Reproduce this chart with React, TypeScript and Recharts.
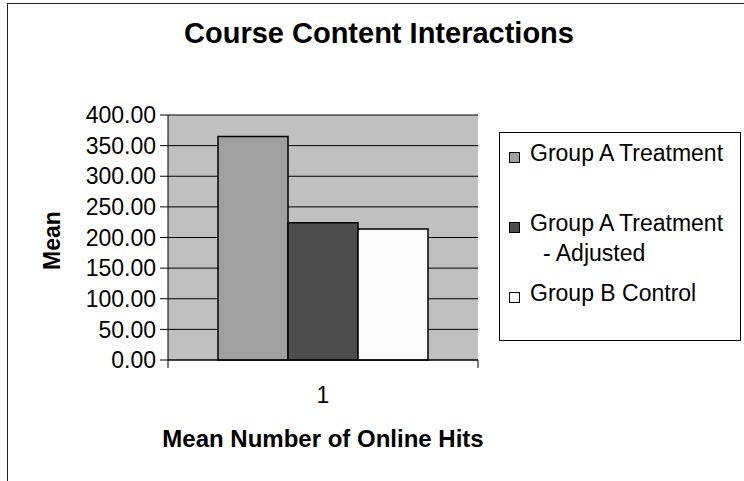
import React from "react";
import {
  BarChart,
  Bar,
  XAxis,
  YAxis,
  CartesianGrid,
  Legend,
} from "recharts";

const categories = ["1"];
const groupATreatment = [365];
const groupAAdjusted = [224];
const groupBControl = [214];
const yTicks = [0, 50, 100, 150, 200, 250, 300, 350, 400];

const seriesNames = [
  "Group A Treatment",
  "Group A Treatment - Adjusted",
  "Group B Control",
];
const seriesColors = ["#A0A0A0", "#4D4D4D", "#FAFAFA"];

const data = categories.map((name, i) => ({
  name,
  a: groupATreatment[i],
  b: groupAAdjusted[i],
  c: groupBControl[i],
}));

const FONT = '"Liberation Sans", Arial, sans-serif';

// Excel puts the category-axis tick marks on the band edges, not the centre
function CategoryTick(props: any) {
  const { x, y, payload } = props;
  const half = payload && payload.offset ? payload.offset : 0;
  return (
    <g>
      {half > 0 && (
        <>
          <line x1={x - half} x2={x - half} y1={y} y2={y + 8} stroke="#000" />
          <line x1={x + half} x2={x + half} y1={y} y2={y + 8} stroke="#000" />
        </>
      )}
      <text
        x={x}
        y={y + 27}
        dy="0.71em"
        textAnchor="middle"
        fill="#000"
        fontSize={23}
        fontFamily={FONT}
      >
        {payload.value}
      </text>
    </g>
  );
}

function LegendBox(props: any) {
  const payload = props.payload || [];
  return (
    <div
      style={{
        width: 242,
        height: 209,
        boxSizing: "border-box",
        border: "1px solid #000",
        background: "#fff",
        paddingTop: 5,
        fontFamily: FONT,
        fontSize: 23,
        color: "#000",
      }}
    >
      {payload.map((entry: any) => (
        <div
          key={entry.value}
          style={{
            height: 70,
            display: "flex",
            alignItems: "flex-start",
            paddingLeft: 9,
            lineHeight: "30px",
          }}
        >
          <span
            style={{
              display: "inline-block",
              width: 11,
              height: 11,
              boxSizing: "border-box",
              border: "1px solid #000",
              background: entry.color,
              marginTop: 14,
              marginRight: 10,
              flex: "none",
            }}
          />
          <span
            style={{
              display: "block",
              width: 190,
              paddingLeft: 13,
              textIndent: -13,
              whiteSpace: "normal",
            }}
          >
            {entry.value}
          </span>
        </div>
      ))}
    </div>
  );
}

export default function App() {
  return (
    <div
      style={{
        position: "absolute",
        left: 0,
        top: 0,
        width: 744,
        height: 481,
        overflow: "hidden",
        background: "#fff",
        fontFamily: FONT,
      }}
    >
      <div
        style={{
          position: "absolute",
          left: 7,
          top: 3,
          width: 900,
          height: 700,
          borderTop: "1.5px solid #222",
          borderLeft: "1.5px solid #222",
        }}
      />
      <div
        style={{
          position: "absolute",
          left: 0,
          top: 19,
          width: 758,
          textAlign: "center",
          fontSize: 29,
          fontWeight: "bold",
          lineHeight: 1,
          color: "#000",
        }}
      >
        Course Content Interactions
      </div>
      <BarChart
        width={744}
        height={481}
        data={data}
        margin={{ top: 115, right: 266, bottom: 0, left: 0 }}
        barCategoryGap={50}
        barGap={0}
        style={{ position: "absolute", left: 0, top: 0 }}
      >
        <CartesianGrid vertical={false} stroke="#000" fill="#C0C0C0" />
        <XAxis
          dataKey="name"
          height={121}
          tickLine={false}
          tickSize={0}
          tickMargin={0}
          axisLine={{ stroke: "#000" }}
          tick={<CategoryTick />}
          label={{
            content: (p: any) => {
              const vb = p.viewBox || {};
              return (
                <text
                  x={vb.x + vb.width / 2}
                  y={vb.y + 78}
                  textAnchor="middle"
                  dominantBaseline="central"
                  fontFamily={FONT}
                  fontSize={24}
                  fontWeight="bold"
                  fill="#000"
                >
                  Mean Number of Online Hits
                </text>
              );
            },
          }}
        />
        <YAxis
          width={168}
          domain={[0, 400]}
          ticks={yTicks}
          interval={0}
          tickFormatter={(v: number) => v.toFixed(2)}
          tickSize={8}
          tickMargin={4}
          tickLine={{ stroke: "#000" }}
          axisLine={{ stroke: "#000" }}
          tick={{ fill: "#000", fontSize: 23, fontFamily: FONT }}
          label={{
            content: (p: any) => {
              const vb = p.viewBox || {};
              const cx = vb.x + 52;
              const cy = vb.y + vb.height / 2 + 3;
              return (
                <text
                  x={cx}
                  y={cy}
                  transform={`rotate(-90 ${cx} ${cy})`}
                  textAnchor="middle"
                  dominantBaseline="central"
                  fontFamily={FONT}
                  fontSize={23}
                  fontWeight="bold"
                  fill="#000"
                >
                  Mean
                </text>
              );
            },
          }}
        />
        <YAxis
          yAxisId="border"
          orientation="right"
          width={0}
          domain={[0, 400]}
          tick={false}
          tickLine={false}
          axisLine={{ stroke: "#808080" }}
        />
        <Legend
          layout="vertical"
          align="center"
          verticalAlign="middle"
          content={<LegendBox />}
          wrapperStyle={{ position: "absolute", left: 499, top: 132, width: 242 }}
        />
        <Bar
          dataKey="a"
          name={seriesNames[0]}
          fill={seriesColors[0]}
          stroke="#000"
          strokeWidth={1.5}
          isAnimationActive={false}
        />
        <Bar
          dataKey="b"
          name={seriesNames[1]}
          fill={seriesColors[1]}
          stroke="#000"
          strokeWidth={1.5}
          isAnimationActive={false}
        />
        <Bar
          dataKey="c"
          name={seriesNames[2]}
          fill={seriesColors[2]}
          stroke="#000"
          strokeWidth={1.5}
          isAnimationActive={false}
        />
      </BarChart>
    </div>
  );
}
